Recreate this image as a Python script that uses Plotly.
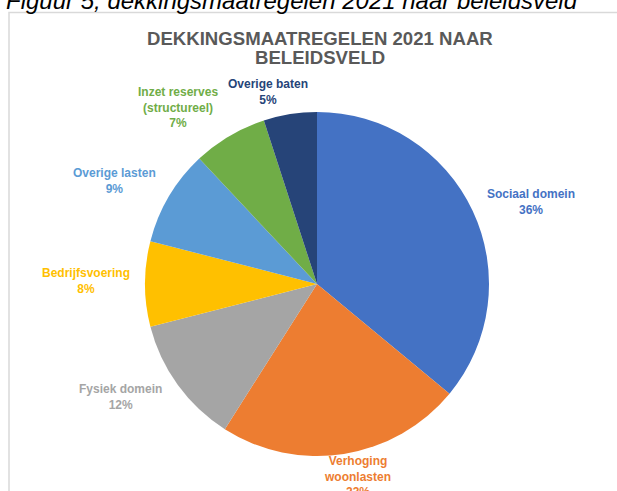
import plotly.graph_objects as go

# data
categories = ["Sociaal domein", "Verhoging woonlasten", "Fysiek domein", "Bedrijfsvoering",
              "Overige lasten", "Inzet reserves (structureel)", "Overige baten"]
label_text = ["Sociaal domein", "Verhoging<br>woonlasten", "Fysiek domein", "Bedrijfsvoering",
              "Overige lasten", "Inzet reserves<br>(structureel)", "Overige baten"]
shares = [36, 23, 12, 8, 9, 7, 5]
title_lines = ["DEKKINGSMAATREGELEN 2021 NAAR", "BELEIDSVELD"]
caption = "Figuur 5, dekkingsmaatregelen 2021 naar beleidsveld"

colors = ["#4472C4", "#ED7D31", "#A5A5A5", "#FFC000", "#5B9BD5", "#70AD47", "#264478"]
# label centres in pixels (layout only)
label_pos = [(531, 202), (357, 476), (120, 397), (86, 281), (114, 181), (178, 107), (268, 92)]

W, H = 617, 491

fig = go.Figure()
fig.add_trace(go.Pie(
    labels=categories, values=shares,
    sort=False, direction="clockwise", rotation=0,
    marker=dict(colors=colors, line=dict(width=0)),
    textinfo="none", hoverinfo="label+percent",
    domain=dict(x=[145 / W, 489 / W], y=[1 - 456 / H, 1 - 112 / H]),
    showlegend=False,
))

total = sum(shares)
annotations = []
for txt, val, col, (px, py) in zip(label_text, shares, colors, label_pos):
    annotations.append(dict(
        x=px / W, y=1 - py / H, xref="paper", yref="paper",
        text=f"<b>{txt}<br>{round(100 * val / total)}%</b>",
        showarrow=False, xanchor="center", yanchor="middle", align="center",
        font=dict(family="Liberation Sans, Arial", size=12, color=col),
    ))

# chart title, two lines
for line, py in zip(title_lines, [38.5, 58]):
    annotations.append(dict(
        x=320 / W, y=1 - py / H, xref="paper", yref="paper",
        text=f"<b>{line}</b>",
        showarrow=False, xanchor="center", yanchor="middle",
        font=dict(family="Liberation Sans, Arial", size=18.6, color="#595959"),
    ))
# figure caption, cut off at the top of the image
annotations.append(dict(
    x=4 / W, y=1 - 0.5 / H, xref="paper", yref="paper",
    text=f"<i>{caption}</i>",
    showarrow=False, xanchor="left", yanchor="middle",
    font=dict(family="Liberation Sans, Arial", size=24, color="#000000"),
))

fig.update_layout(
    width=W, height=H,
    margin=dict(l=0, r=0, t=0, b=0),
    paper_bgcolor="white",
    annotations=annotations,
    shapes=[dict(type="rect", xref="paper", yref="paper",
                 x0=9 / W, x1=1.05, y0=-0.05, y1=1 - 12.5 / H,
                 line=dict(color="#D9D9D9", width=1.5), fillcolor="rgba(0,0,0,0)")],
)

fig.write_html("out.html", config={"displayModeBar": False},
               post_script="document.body.style.margin='0';")
